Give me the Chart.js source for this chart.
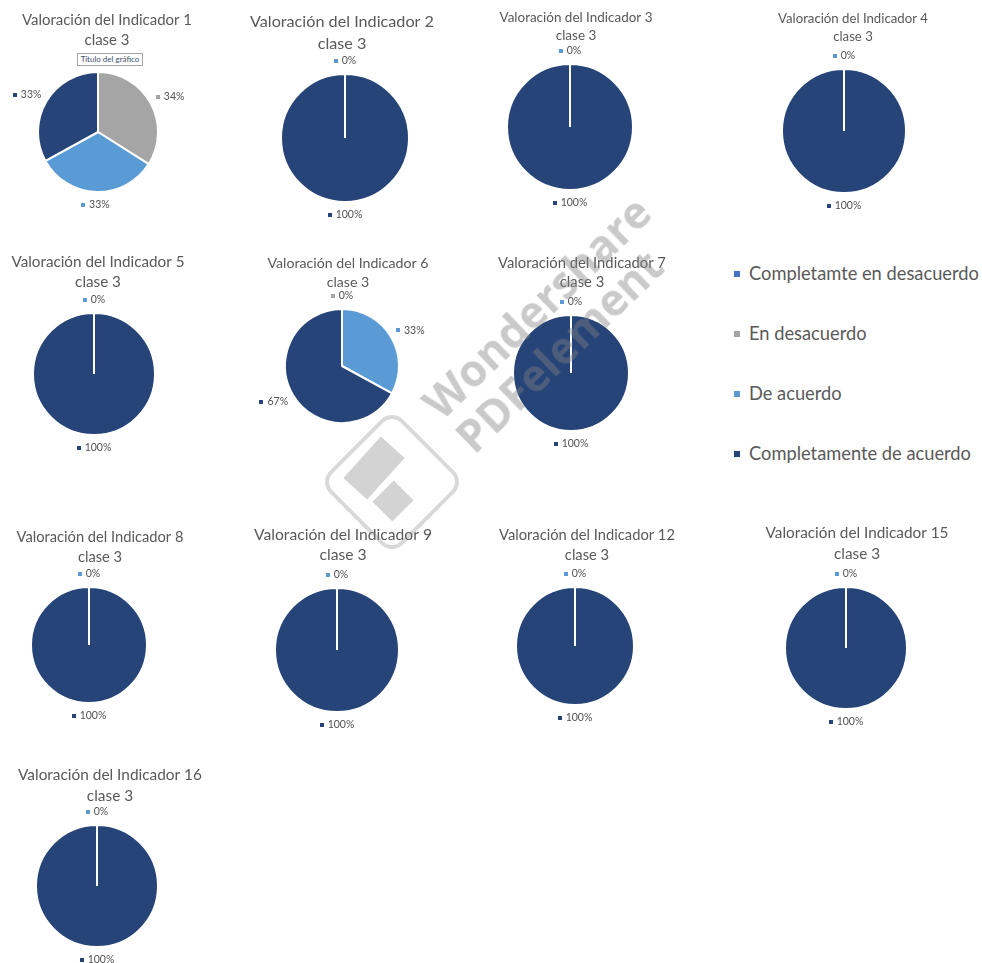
<!DOCTYPE html>
<html lang="es">
<head>
<meta charset="UTF-8">
<title>Valoración de indicadores - clase 3</title>
<style>
  body { margin: 0; background: #fff; }
  #page { position: relative; width: 982px; height: 963px; overflow: hidden; background: #fff; font-family: Lato, "Open Sans", sans-serif; }
  #page canvas { position: absolute; }
  .legend-item { position: absolute; left: 734px; height: 22px; line-height: 22px; font-size: 18.3px; color: #595959; white-space: nowrap; transform: translateY(-50%); }
  .legend-item .sw { display: inline-block; width: 6px; height: 6px; margin-right: 9px; vertical-align: 3px; }
  .nota { position: absolute; left: 77px; top: 53px; width: 64px; height: 11px; border: 1px solid #a6a6a6; background: #fff; font-size: 8px; line-height: 11px; text-align: center; color: #3b4e6b; z-index: 2; }
  #marca { position: absolute; left: 0; top: 0; width: 982px; height: 963px; pointer-events: none; z-index: 3; }
  .wm-text { position: absolute; left: 553px; top: 324px; transform: translate(-50%, -50%) rotate(-44deg); font: 700 44px "Open Sans", sans-serif; line-height: 47px; color: rgba(128, 128, 128, 0.42); white-space: nowrap; }
  .wm-logo { position: absolute; left: 340px; top: 430px; width: 104px; height: 104px; box-sizing: border-box; border: 4px solid rgba(128, 128, 128, 0.3); border-radius: 16px; transform: rotate(45deg); }
  .wm-a, .wm-b { position: absolute; background: rgba(128, 128, 128, 0.35); }
  .wm-a { left: 346px; top: 452px; width: 56px; height: 32px; transform: rotate(-48deg); }
  .wm-b { left: 378px; top: 487px; width: 30px; height: 28px; transform: rotate(-45deg); }
</style>
</head>
<body>
<div id="page">
  <div class="nota">Título del gráfico</div>
  <div id="marca">
    <div class="wm-text">Wondershare<br>PDFelement</div>
    <div class="wm-logo"></div>
    <div class="wm-a"></div>
    <div class="wm-b"></div>
  </div>
</div>

<script src="https://cdn.jsdelivr.net/npm/chart.js"></script>
<script>
const categories = ['Completamte en desacuerdo', 'En desacuerdo', 'De acuerdo', 'Completamente de acuerdo'];
const colors = ['#4472C4', '#A5A5A5', '#5B9BD5', '#264478'];
const indicators = [1, 2, 3, 4, 5, 6, 7, 8, 9, 12, 15, 16];
const subtitle = 'clase 3';

// percentage of answers per category, one row per indicator
const values = [
  [0, 34, 33, 33],   // 1
  [0, 0, 0, 100],    // 2
  [0, 0, 0, 100],    // 3
  [0, 0, 0, 100],    // 4
  [0, 0, 0, 100],    // 5
  [0, 0, 33, 67],    // 6
  [0, 0, 0, 100],    // 7
  [0, 0, 0, 100],    // 8
  [0, 0, 0, 100],    // 9
  [0, 0, 0, 100],    // 12
  [0, 0, 0, 100],    // 15
  [0, 0, 0, 100]     // 16
];

// where each panel sits: pie centre/radius, title centre, title width and line step
const panels = [
  {cx: 98,  cy: 132, r: 60, tx: 107, ty: 20,  tw: 170, lh: 20},
  {cx: 345, cy: 138, r: 64, tx: 342, ty: 22,  tw: 184, lh: 22},
  {cx: 570, cy: 127, r: 63, tx: 576, ty: 18,  tw: 153, lh: 18},
  {cx: 844, cy: 131, r: 62, tx: 853, ty: 19,  tw: 150, lh: 18},
  {cx: 94,  cy: 374, r: 61, tx: 98,  ty: 262, tw: 173, lh: 20},
  {cx: 342, cy: 366, r: 57, tx: 348, ty: 263, tw: 161, lh: 19},
  {cx: 571, cy: 373, r: 58, tx: 582, ty: 263, tw: 168, lh: 19},
  {cx: 89,  cy: 645, r: 58, tx: 100, ty: 537, tw: 167, lh: 20},
  {cx: 337, cy: 650, r: 62, tx: 343, ty: 535, tw: 178, lh: 20},
  {cx: 575, cy: 646, r: 59, tx: 587, ty: 535, tw: 176, lh: 20},
  {cx: 846, cy: 648, r: 61, tx: 857, ty: 533, tw: 183, lh: 21},
  {cx: 97,  cy: 886, r: 61, tx: 110, ty: 775, tw: 184, lh: 21}
];

// two-line title, scaled to the wanted width
const panelTitle = {
  id: 'panelTitle',
  afterDraw(chart, args, opts) {
    const ctx = chart.ctx;
    ctx.save();
    ctx.font = '20px Lato';
    const fs = 20 * opts.width / ctx.measureText(opts.lines[0]).width;
    ctx.font = fs.toFixed(2) + 'px Lato';
    ctx.fillStyle = '#595959';
    ctx.textAlign = 'center';
    ctx.textBaseline = 'middle';
    opts.lines.forEach((t, i) => ctx.fillText(t, opts.x, opts.y + i * opts.step));
    ctx.restore();
  }
};

// outside labels: small coloured square + percentage
const pieLabels = {
  id: 'pieLabels',
  afterDatasetsDraw(chart, args, opts) {
    const ctx = chart.ctx;
    const ds = chart.data.datasets[0];
    const arcs = chart.getDatasetMeta(0).data;
    // empty slices all sit at the top, only the last one stays visible
    let lastZero = -1;
    ds.data.forEach((v, i) => { if (v === 0) lastZero = i; });
    ctx.save();
    ctx.font = '10.5px Lato';
    ctx.textBaseline = 'middle';
    ctx.textAlign = 'left';
    arcs.forEach((arc, i) => {
      if (ds.data[i] === 0 && i !== lastZero) return;
      const mid = (arc.startAngle + arc.endAngle) / 2;
      const cos = Math.cos(mid), sin = Math.sin(mid);
      const text = ds.data[i] + '%';
      const w = 8 + ctx.measureText(text).width, h = 10;
      const d = arc.outerRadius + opts.gap;
      const gx = arc.x + cos * d + cos * w / 2;
      const gy = arc.y + sin * d + sin * h / 2;
      const left = gx - w / 2;
      ctx.fillStyle = ds.backgroundColor[i];
      ctx.fillRect(Math.round(left), Math.round(gy) - 2, 4, 4);
      ctx.fillStyle = '#505050';
      ctx.fillText(text, left + 8, gy);
    });
    ctx.restore();
  }
};

const page = document.getElementById('page');

panels.forEach((p, k) => {
  const x0 = p.cx - 130, W = 260;
  const y0 = p.ty - 16;
  const H = p.cy + p.r + 28 - y0;
  const canvas = document.createElement('canvas');
  canvas.width = W;
  canvas.height = H;
  canvas.style.left = x0 + 'px';
  canvas.style.top = y0 + 'px';
  canvas.style.width = W + 'px';
  canvas.style.height = H + 'px';
  page.insertBefore(canvas, page.firstChild);

  new Chart(canvas, {
    type: 'pie',
    data: {
      labels: categories,
      datasets: [{
        data: values[k],
        backgroundColor: colors,
        borderColor: '#ffffff',
        borderWidth: 2,
        hoverOffset: 0,
        radius: p.r
      }]
    },
    options: {
      responsive: false,
      animation: false,
      events: [],
      layout: {
        padding: {left: 130 - p.r, right: 130 - p.r, top: p.cy - p.r - y0, bottom: 28}
      },
      plugins: {
        legend: {display: false},
        tooltip: {enabled: false},
        panelTitle: {
          lines: ['Valoración del Indicador ' + indicators[k], subtitle],
          x: p.tx - x0, y: p.ty - y0, width: p.tw, step: p.lh
        },
        pieLabels: {gap: 8}
      }
    },
    plugins: [panelTitle, pieLabels]
  });
});

// shared legend on the right
categories.forEach((name, i) => {
  const item = document.createElement('div');
  item.className = 'legend-item';
  item.style.top = (273 + i * 60) + 'px';
  const sw = document.createElement('span');
  sw.className = 'sw';
  sw.style.background = colors[i];
  item.appendChild(sw);
  item.appendChild(document.createTextNode(name));
  page.appendChild(item);
});
</script>
</body>
</html>
